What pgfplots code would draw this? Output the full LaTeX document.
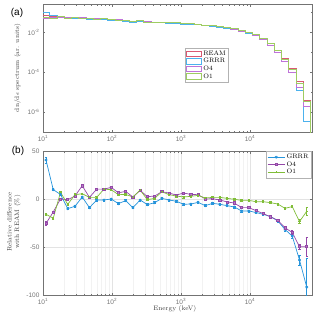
\documentclass[border=0pt]{standalone}
\usepackage{fontspec}
\setsansfont{Liberation Sans}
\usepackage{pgfplots}
\usepackage{pgfplotstable}
\pgfplotsset{compat=1.18}
\definecolor{cREAM}{rgb}{0.85,0.35,0.45}
\definecolor{cGRRRt}{rgb}{0.30,0.70,0.93}
\definecolor{cO4t}{rgb}{0.75,0.45,0.85}
\definecolor{cO1t}{rgb}{0.62,0.80,0.38}
\definecolor{cGRRR}{rgb}{0.15,0.58,0.86}
\definecolor{cO4}{rgb}{0.58,0.28,0.66}
\definecolor{cO1}{rgb}{0.50,0.74,0.22}
\definecolor{axgray}{rgb}{0.45,0.45,0.45}

% histogram edges (keV) and values
\pgfplotstableread{
x ream grrr ofour oone
9.795 1e-9 1e-9 1e-9 1e-9
9.795 0.06761 0.09513 0.05037 0.05686
12.47 0.06310 0.06922 0.05458 0.05048
15.89 0.05888 0.06171 0.05888 0.06294
20.23 0.05495 0.04946 0.05457 0.05193
25.76 0.05248 0.04849 0.05411 0.05484
32.81 0.05012 0.05117 0.05704 0.05288
41.78 0.04786 0.04355 0.04867 0.04867
53.21 0.04571 0.04525 0.05042 0.04649
67.76 0.04365 0.04321 0.04815 0.04815
86.30 0.04169 0.04169 0.04673 0.04573
109.9 0.03981 0.03790 0.04240 0.04160
140.0 0.03802 0.03737 0.04102 0.03984
178.2 0.03631 0.03304 0.03707 0.03707
227.0 0.03467 0.03432 0.03779 0.03789
289.1 0.03311 0.03116 0.03390 0.03288
368.1 0.03162 0.03042 0.03260 0.03184
468.8 0.03090 0.03112 0.03325 0.03325
597.0 0.02951 0.02921 0.03134 0.03084
760.3 0.02884 0.02815 0.03002 0.02973
968.3 0.02754 0.02603 0.02925 0.02812
1233 0.02630 0.02493 0.02756 0.02704
1570 0.02455 0.02369 0.02565 0.02548
2000 0.02291 0.02133 0.02291 0.02314
2547 0.02138 0.02042 0.02144 0.02174
3243 0.01950 0.01843 0.01931 0.01983
4130 0.01738 0.01618 0.01684 0.01750
5260 0.01514 0.01388 0.01452 0.01509
6699 0.01288 0.01128 0.01172 0.01270
8531 0.01047 0.009172 0.009528 0.01032
10864 0.008318 0.007145 0.007312 0.008085
13836 0.005012 0.004215 0.004250 0.004872
17620 0.002818 0.002302 0.002294 0.002711
22439 0.001259 9.719e-4 9.808e-4 0.001194
28576 5.012e-4 3.423e-4 3.508e-4 4.526e-4
36392 1.585e-4 9.732e-5 1.033e-4 1.460e-4
46345 3.548e-5 1.295e-5 1.785e-5 2.714e-5
59020 3.981e-6 3.264e-7 2.002e-6 3.471e-6
75162 3.981e-6 3.264e-7 2.002e-6 3.471e-6
75162 1e-9 1e-9 1e-9 1e-9
}\hist

% relative differences at bin centres (keV), percent, error
\pgfplotstableread{
x g ge p pe o oe
11.05 40.7 3 -25.5 2 -15.9 1.5
14.08 9.7 1 -13.5 1 -20.0 1
17.93 4.8 1 0 1 6.9 1
22.83 -10.0 1 -0.7 1 -5.5 1
29.08 -7.6 1 3.1 1 4.5 1
37.03 2.1 1 13.8 1 5.5 1
47.15 -9.0 1 1.7 1 1.7 1
60.04 -1.0 1 10.3 1 1.7 1
76.47 -1.0 1 10.3 1 10.3 1
97.38 0 1 12.1 1 9.7 1
124.0 -4.8 1 6.5 1 4.5 1
157.9 -1.7 1 7.9 1 4.8 1
201.1 -9.0 1 2.1 1 2.1 1
256.1 -1.0 1 9.0 1 9.3 1
326.1 -5.9 1 2.4 1 -0.7 1
415.4 -3.8 1 3.1 1 0.7 1
529.0 0.7 1 7.6 1 7.6 1
673.6 -1.0 1 6.2 1 4.5 1
857.8 -2.4 1 4.1 1 3.1 1
1093 -5.5 1 6.2 1 2.1 1
1392 -5.2 1 4.8 1 2.8 1
1772 -3.5 1 4.5 1 3.8 1
2257 -6.9 1 0 1 1.0 1
2874 -4.5 1 0.3 1 1.7 1
3660 -5.5 1 -1.0 1 1.7 1
4662 -6.9 1 -3.1 1 0.7 1
5936 -8.3 1 -4.1 1 -0.3 1
7560 -12.4 1 -9.0 1 -1.4 1
9627 -12.4 1 -9.0 1 -1.4 1
12260 -14.1 1 -12.1 1 -2.8 1
15613 -15.9 1 -15.2 1 -2.8 1
19884 -18.3 1 -18.6 1 -3.8 1
25322 -22.8 1 -22.1 1 -5.2 1
32247 -31.7 1.5 -30.0 1.5 -9.7 1
41067 -38.6 2.5 -34.8 2 -7.9 1
52300 -63.5 5 -49.7 3 -23.5 2
66606 -91.8 30 -49.7 10 -12.8 4
}\rel

\begin{document}
\begin{tikzpicture}
\useasboundingbox (0pt,0pt) rectangle (320pt,-317pt);
\pgfplotsset{
  every axis/.append style={
    scale only axis, width=269pt,
    xmode=log, xmin=10, xmax=79433,
    xtick={10,100,1000,10000},
    xticklabels={10\textsuperscript{1},10\textsuperscript{2},10\textsuperscript{3},10\textsuperscript{4}},
    tick label style={font=\sffamily\fontsize{6.5}{7}\selectfont, text=axgray},
    axis line style={axgray},
    every tick/.style={axgray, line width=0.3pt},
    major tick length=2.5pt, minor tick length=1.5pt,
    label style={font=\fontsize{6.5}{7.5}\selectfont, text=black!75},
    legend cell align=left,
  }
}
\begin{axis}[
  at={(43pt,-132pt)}, anchor=south west, height=128pt,
  ymode=log, ymin=1e-7, ymax=0.26,
  ytick={1e-6,1e-4,1e-2},
  yticklabels={10\textsuperscript{-6},10\textsuperscript{-4},10\textsuperscript{-2}},
  minor ytick={1e-7,1e-5,1e-3,1e-1},
  ylabel={dn/d$\epsilon$ spectrum (ar. units)},
  ylabel style={at={(axis description cs:-0.095,0.5)}, anchor=center},
  legend style={at={(0.528,0.656)}, anchor=north west, draw=black!30,
    font=\fontsize{6.5}{7}\selectfont, inner sep=1pt, row sep=-1.5pt,
    nodes={inner sep=1.5pt}},
  legend image code/.code={\draw[#1] (0pt,-2.8pt) rectangle (15pt,2.8pt);},
]
\addplot[const plot mark left, cREAM, line width=0.6pt] table[x=x,y=ream] {\hist};
\addlegendentry{REAM}
\addplot[const plot mark left, cGRRRt, line width=0.6pt] table[x=x,y=grrr] {\hist};
\addlegendentry{GRRR}
\addplot[const plot mark left, cO4t, line width=0.6pt] table[x=x,y=ofour] {\hist};
\addlegendentry{O4}
\addplot[const plot mark left, cO1t, line width=0.6pt] table[x=x,y=oone] {\hist};
\addlegendentry{O1}
\end{axis}

\begin{axis}[
  at={(43pt,-295pt)}, anchor=south west, height=144pt,
  ymin=-100, ymax=50, ytick={-100,-50,0,50},
  yticklabels={-100,-50,0,50},
  xmajorgrids, xminorgrids, ymajorgrids,
  major grid style={black!11, line width=0.3pt},
  minor grid style={black!5, line width=0.3pt},
  xlabel={Energy (keV)},
  xlabel style={at={(axis description cs:0.49,0)}, anchor=north, yshift=-7pt},
  ylabel={Relative difference\\with REAM (\%)},
  ylabel style={align=center, at={(axis description cs:-0.108,0.507)}, anchor=center},
  legend style={at={(0.997,0.997)}, anchor=north east, draw=black!30,
    font=\fontsize{6.5}{7}\selectfont, inner sep=1pt, row sep=-1.5pt,
    nodes={inner sep=1.5pt}},
  error bars/error bar style={line width=0.5pt},
  error bars/error mark options={rotate=90, mark size=1.2pt, line width=0.5pt},
]
\addplot[cGRRR, line width=0.7pt, mark=asterisk, mark size=1.4pt,
  error bars/.cd, y dir=both, y explicit]
  table[x=x, y=g, y error=ge] {\rel};
\addlegendentry{GRRR}
\addplot[cO4, line width=0.7pt, mark=square*, mark size=1.1pt,
  mark options={fill=cO4!70}, error bars/.cd, y dir=both, y explicit]
  table[x=x, y=p, y error=pe] {\rel};
\addlegendentry{O4}
\addplot[cO1, line width=0.7pt, mark=+, mark size=1.1pt,
  error bars/.cd, y dir=both, y explicit]
  table[x=x, y=o, y error=oe] {\rel};
\addlegendentry{O1}
\end{axis}

\node[font=\sffamily\fontsize{10}{12}\selectfont] at (17pt,-13pt) {(a)};
\node[font=\sffamily\fontsize{10}{12}\selectfont] at (18pt,-151pt) {(b)};
\end{tikzpicture}
\end{document}
